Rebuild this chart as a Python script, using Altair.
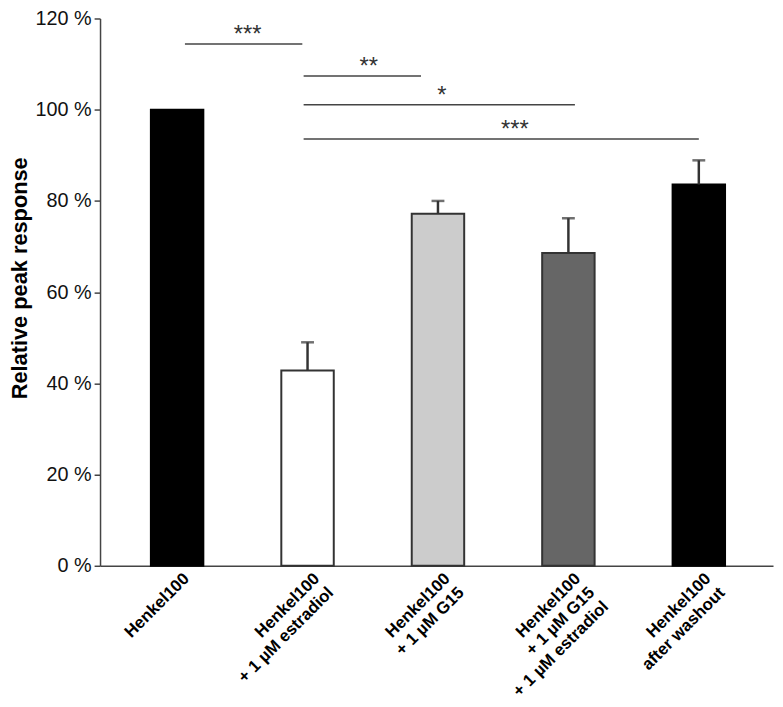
import json
import altair as alt
import pandas as pd

# ---- data ----
groups = [
    "Henkel100",
    "Henkel100 + 1 µM estradiol",
    "Henkel100 + 1 µM G15",
    "Henkel100 + 1 µM G15 + 1 µM estradiol",
    "Henkel100 after washout",
]
label_lines = [
    ["Henkel100"],
    ["Henkel100", "+ 1 µM estradiol"],
    ["Henkel100", "+ 1 µM G15"],
    ["Henkel100", "+ 1 µM G15", "+ 1 µM estradiol"],
    ["Henkel100", "after washout"],
]
group_index = [0, 1, 2, 3, 4]
values = [100.0, 42.8, 77.2, 68.6, 83.6]
errors = [None, 6.2, 2.8, 7.6, 5.3]

sig_start = [0.06, 0.97, 0.97, 0.97]
sig_end = [0.96, 1.87, 3.05, 4.0]
sig_level = [114.4, 107.4, 101.1, 93.6]
sig_text = ["***", "**", "*", "***"]
sig_text_at = [0.54, 1.47, 2.03, 2.59]

y_ticks = [0, 20, 40, 60, 80, 100, 120]

# ---- styling ----
fill_colors = ["#000000", "#ffffff", "#cccccc", "#666666", "#000000"]
stroke_colors = ["#000000", "#333333", "#333333", "#333333", "#000000"]
FONT = "Liberation Sans"

bars_df = pd.DataFrame({"idx": group_index, "group": groups, "value": values})
err_df = pd.DataFrame(
    {
        "idx": [i for i, e in zip(group_index, errors) if e is not None],
        "value": [v for v, e in zip(values, errors) if e is not None],
        "top": [v + e for v, e in zip(values, errors) if e is not None],
    }
)
sig_df = pd.DataFrame(
    {"start": sig_start, "end": sig_end, "level": sig_level, "label": sig_text, "tx": sig_text_at}
)

x_scale = alt.Scale(domain=[-0.553, 4.531], nice=False, zero=False)
y_scale = alt.Scale(domain=[0, 120], nice=False)

label_expr = json.dumps(label_lines, ensure_ascii=False) + "[datum.value]"

x_axis = alt.Axis(
    values=group_index,
    labelExpr=label_expr,
    labelAngle=-45,
    labelAlign="right",
    labelBaseline="middle",
    labelPadding=10,
    labelOffset=9,
    ticks=False,
    domainColor="#444444",
    domainWidth=1.5,
    labelFont=FONT,
    labelFontWeight="bold",
    labelFontSize=17,
    labelLineHeight=20,
    labelColor="#000000",
    labelOverlap=False,
    labelFlush=False,
    labelBound=False,
    grid=False,
    title=None,
)
y_axis = alt.Axis(
    values=y_ticks,
    labelExpr="datum.value + ' %'",
    tickSize=6,
    tickColor="#444444",
    tickWidth=1.5,
    domainColor="#444444",
    domainWidth=1.5,
    labelFont=FONT,
    labelFontSize=20,
    labelColor="#111111",
    labelPadding=3,
    grid=False,
    title="Relative peak response",
    titleFont=FONT,
    titleFontSize=22,
    titleFontWeight="bold",
    titleColor="#000000",
    titleX=-69,
    titleY=262,
)

bars = alt.Chart(bars_df).mark_bar(size=53, strokeWidth=2).encode(
    x=alt.X("idx:Q", scale=x_scale, axis=x_axis),
    y=alt.Y("value:Q", scale=y_scale, axis=y_axis),
    fill=alt.Fill("group:N", scale=alt.Scale(domain=groups, range=fill_colors), legend=None),
    stroke=alt.Stroke("group:N", scale=alt.Scale(domain=groups, range=stroke_colors), legend=None),
)

err_rule = alt.Chart(err_df).mark_rule(color="#333333", strokeWidth=2.5).encode(
    x="idx:Q", y="value:Q", y2="top:Q"
)
err_cap = alt.Chart(err_df).mark_tick(
    orient="horizontal", size=13, thickness=2.5, color="#333333"
).encode(x="idx:Q", y="top:Q")

sig_lines = alt.Chart(sig_df).mark_rule(color="#444444", strokeWidth=1.5).encode(
    x="start:Q", x2="end:Q", y="level:Q"
)
sig_labels = alt.Chart(sig_df).mark_text(
    font=FONT, fontSize=24, color="#333333", baseline="alphabetic", align="center", dy=-2
).encode(x="tx:Q", y="level:Q", text="label:N")

chart = (
    alt.layer(bars, err_rule, err_cap, sig_lines, sig_labels)
    .properties(
        width=680,
        height=553,
        padding={"left": 93, "top": 7, "right": 2, "bottom": 131},
        autosize=alt.AutoSizeParams(type="none"),
        background="#ffffff",
    )
    .configure_view(stroke=None)
)

chart.save("out.html", embed_options={"renderer": "svg", "actions": False})
